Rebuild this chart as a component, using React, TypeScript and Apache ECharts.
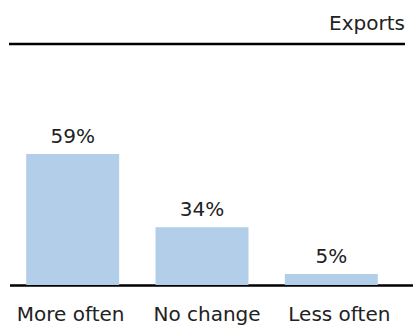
import React, { useEffect, useRef } from "react";
import * as echarts from "echarts";

const categories = ["More often", "No change", "Less often"];
// bar heights as drawn in the reference (percent scale)
const barValues = [59, 26, 5];
// value labels as printed in the reference
const valueLabels = ["59%", "34%", "5%"];
const title = "Exports";

const FONT = "'DejaVu Sans', sans-serif";
const labelStyle = { fontFamily: FONT, fontSize: 20, color: "#222" };

export default function App() {
  const ref = useRef<HTMLDivElement>(null);
  useEffect(() => {
    if (!ref.current) return;
    const chart = echarts.init(ref.current, undefined, { renderer: "svg" });
    chart.setOption({
      animation: false,
      title: {
        text: title,
        right: 3,
        top: 8,
        textStyle: { ...labelStyle, fontWeight: "normal" },
      },
      grid: { left: 8, right: 17, top: 63, bottom: 46 },
      xAxis: {
        type: "category",
        data: categories,
        axisLine: { show: false },
        axisTick: { show: false },
        axisLabel: {
          ...labelStyle,
          margin: 19,
          interval: 0,
          formatter: (v: string, i: number) => `{c${i}|${v}}`,
          rich: {
            c0: { ...labelStyle, padding: [0, 4, 0, 0] },
            c1: { ...labelStyle, padding: [0, 0, 0, 10] },
            c2: { ...labelStyle, padding: [0, 0, 0, 16] },
          },
        },
      },
      yAxis: {
        type: "value",
        min: 0,
        max: 100,
        show: false,
        splitLine: { show: false },
      },
      series: [
        {
          type: "bar",
          data: barValues,
          barWidth: 93,
          itemStyle: { color: "#b3cee9" },
          label: {
            show: true,
            position: "top",
            distance: 8,
            ...labelStyle,
            formatter: (p: any) => valueLabels[p.dataIndex],
          },
        },
      ],
      graphic: [
        {
          type: "line",
          shape: { x1: 9, y1: 44, x2: 405, y2: 44 },
          style: { stroke: "#000", lineWidth: 2.5 },
        },
        {
          type: "line",
          shape: { x1: 10, y1: 285.5, x2: 413, y2: 285.5 },
          style: { stroke: "#000", lineWidth: 2.5 },
        },
      ],
    });
    return () => chart.dispose();
  }, []);
  return <div ref={ref} style={{ width: 413, height: 331, position: "absolute", left: 0, top: 0 }} />;
}
